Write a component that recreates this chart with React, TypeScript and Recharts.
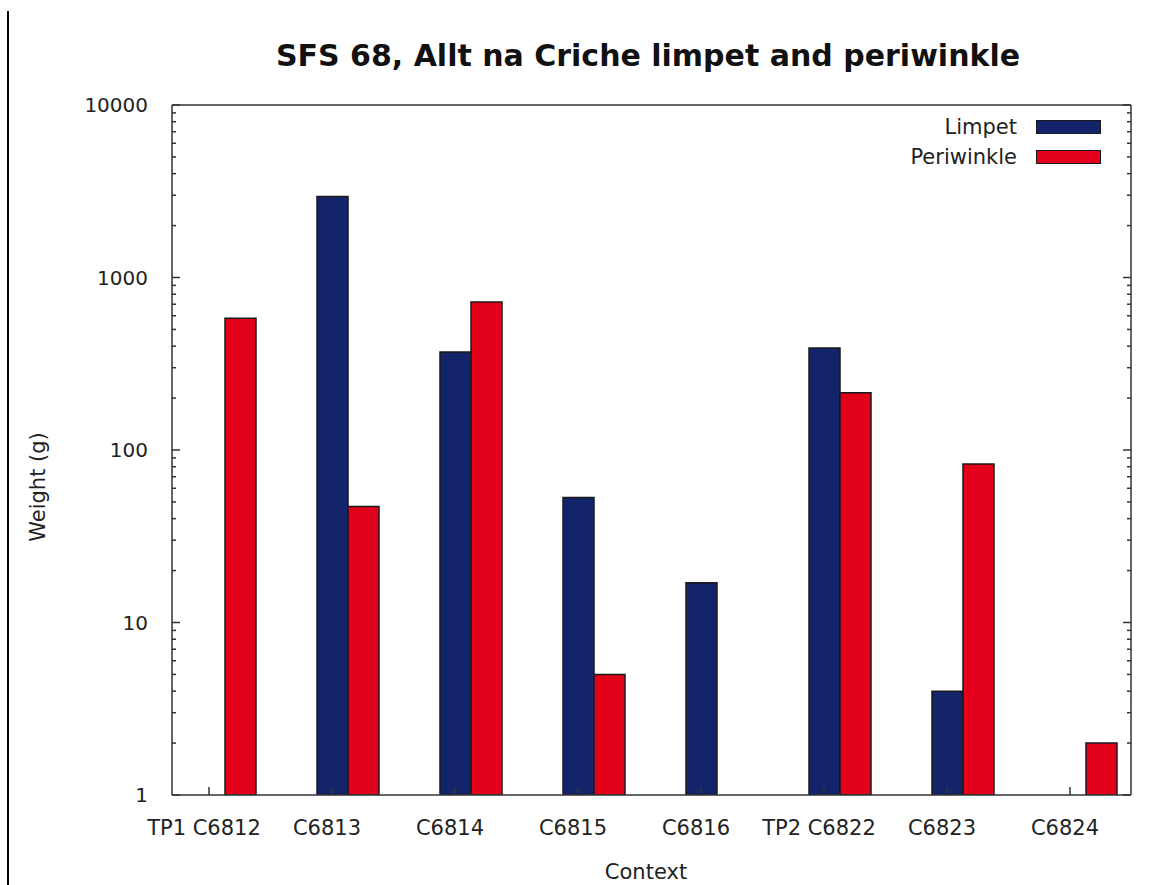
import { BarChart, Bar, XAxis, YAxis, Legend } from 'recharts'

const CATEGORIES = ['TP1 C6812', 'C6813', 'C6814', 'C6815', 'C6816', 'TP2 C6822', 'C6823', 'C6824']
const LIMPET = [null, 2950, 370, 53, 17, 390, 4, null]
const PERIWINKLE = [580, 47, 720, 5, null, 215, 83, 2]

const MAJOR_TICKS = [1, 10, 100, 1000, 10000]

const SERIES = [
  { key: 'Limpet', color: '#13246a' },
  { key: 'Periwinkle', color: '#e2001a' },
] as const

const data = CATEGORIES.map((name, i) => ({
  name,
  Limpet: LIMPET[i],
  Periwinkle: PERIWINKLE[i],
}))

// log axis minor ticks 2..9 in every decade, like gnuplot does
const yTicks: number[] = []
MAJOR_TICKS.slice(0, -1).forEach((d) => {
  for (let m = 1; m < 10; m++) yTicks.push(m * d)
})
yTicks.push(10000)

const W = 1164
const H = 885
const PLOT = { left: 172, right: 1131, top: 105, bottom: 795 }
const BAR = 31
const FONT = '"DejaVu Sans", sans-serif'
const AXIS = '#333'

function YTick({ x, y, payload }: any) {
  const v = payload.value as number
  const major = MAJOR_TICKS.includes(v)
  const len = major ? 8 : 4
  return (
    <g>
      <line x1={x} x2={x + len} y1={y} y2={y} stroke={AXIS} strokeWidth={1.5} />
      <line x1={PLOT.right} x2={PLOT.right - len} y1={y} y2={y} stroke={AXIS} strokeWidth={1.5} />
      {major && (
        <text x={x - 24} y={y} dy="0.36em" textAnchor="end" fontSize={20} fill="#222" fontFamily={FONT}>
          {v}
        </text>
      )}
    </g>
  )
}

// gnuplot puts the category tick on the first bar of the cluster
function XTick({ x, y, payload }: any) {
  const cx = x - BAR / 2
  return (
    <g>
      <line x1={cx} x2={cx} y1={y} y2={y - 8} stroke={AXIS} strokeWidth={1.5} />
      <text x={cx - 5} y={y} dy={40} textAnchor="middle" fontSize={21} fill="#222" fontFamily={FONT}>
        {payload.value}
      </text>
    </g>
  )
}

function LegendBox({ payload }: any) {
  return (
    <div style={{ fontFamily: FONT, fontSize: 21, color: '#222' }}>
      {(payload ?? []).map((p: any) => (
        <div key={p.value} style={{ display: 'flex', alignItems: 'center', justifyContent: 'flex-end', height: 30 }}>
          <span style={{ marginRight: 19 }}>{p.value}</span>
          <span style={{ width: 63, height: 12, background: p.color, border: '1.5px solid #1a1a1a' }} />
        </div>
      ))}
    </div>
  )
}

export default function App() {
  return (
    <div style={{ position: 'absolute', left: 0, top: 0, width: W, height: H, background: '#fff', fontFamily: FONT }}>
      <div style={{ position: 'absolute', left: 7, top: 11, width: 2, height: H - 11, background: '#000' }} />
      <div
        style={{
          position: 'absolute',
          left: 0,
          width: W,
          top: 38,
          paddingLeft: 132,
          boxSizing: 'border-box',
          textAlign: 'center',
          fontSize: 30,
          fontWeight: 'bold',
          color: '#111',
        }}
      >
        SFS 68, Allt na Criche limpet and periwinkle
      </div>
      <div
        style={{
          position: 'absolute',
          left: 38,
          top: 487,
          transform: 'translate(-50%, -50%) rotate(-90deg)',
          whiteSpace: 'nowrap',
          fontSize: 21,
          color: '#222',
        }}
      >
        Weight (g)
      </div>
      <div
        style={{
          position: 'absolute',
          left: 646,
          top: 872,
          transform: 'translate(-50%, -50%)',
          whiteSpace: 'nowrap',
          fontSize: 21,
          color: '#222',
        }}
      >
        Context
      </div>
      <div style={{ position: 'absolute', left: 0, top: 0 }}>
        <BarChart
          width={W}
          height={H}
          data={data}
          barGap={0}
          barSize={BAR}
          margin={{ top: PLOT.top - 1, right: W - PLOT.right - 1, bottom: H - PLOT.bottom - 1, left: PLOT.left - 1 }}
        >
          <XAxis
            dataKey="name"
            height={1}
            padding={{ left: -9, right: -16 }}
            tickSize={0}
            tickMargin={0}
            tickLine={false}
            interval={0}
            tick={<XTick />}
            axisLine={{ stroke: AXIS, strokeWidth: 1.5 }}
          />
          <XAxis
            xAxisId="top"
            orientation="top"
            dataKey="name"
            height={1}
            tick={false}
            tickLine={false}
            axisLine={{ stroke: AXIS, strokeWidth: 1.5 }}
          />
          <YAxis
            scale="log"
            type="number"
            domain={[1, 10000]}
            allowDataOverflow
            ticks={yTicks}
            interval={0}
            width={1}
            tickSize={0}
            tickMargin={0}
            tickLine={false}
            tick={<YTick />}
            axisLine={{ stroke: AXIS, strokeWidth: 1.5 }}
          />
          <YAxis
            yAxisId="right"
            orientation="right"
            type="number"
            domain={[0, 1]}
            width={1}
            tick={false}
            tickLine={false}
            axisLine={{ stroke: AXIS, strokeWidth: 1.5 }}
          />
          <Legend
            layout="horizontal"
            verticalAlign="middle"
            align="center"
            content={<LegendBox />}
            wrapperStyle={{ left: 857, top: 112, width: 244 }}
          />
          {SERIES.map(({ key, color }) => (
            <Bar
              key={key}
              dataKey={key}
              fill={color}
              stroke="#1a1a1a"
              strokeWidth={1.5}
              isAnimationActive={false}
            />
          ))}
        </BarChart>
      </div>
    </div>
  )
}
